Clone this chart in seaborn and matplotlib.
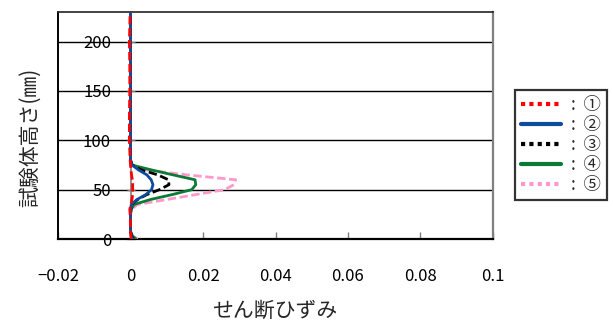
import matplotlib
matplotlib.use("Agg")
import matplotlib.pyplot as plt
import pandas as pd
import seaborn as sns
from matplotlib.lines import Line2D

# Specimen height (mm) at each measurement level
heights = [0, 3, 8, 15, 25, 30, 35, 40, 45, 50, 55, 60, 65, 70, 75, 80,
           90, 100, 125, 150, 175, 200, 230]

# Shear strain profiles for cases ① – ⑤
strain_1 = [0.0002, 0.0001, 0.0, 0.0, -0.0001, -0.0002, 0.0001, 0.0004, 0.0006,
            0.0006, 0.0006, 0.0005, 0.0003, 0.0001, 0.0, -0.0001, -0.0002,
            -0.0003, -0.0003, -0.0002, -0.0002, -0.0003, -0.0001]
strain_2 = [0.0006, 0.0002, 0.0, 0.0, 0.0, 0.0001, 0.0002, 0.0018, 0.0042,
            0.0058, 0.0062, 0.0057, 0.0045, 0.0022, 0.0004, 0.0, 0.0, 0.0,
            0.0, 0.0, 0.0, 0.0, 0.0]
strain_3 = [0.0008, 0.0003, 0.0, 0.0, 0.0, 0.0001, 0.0003, 0.0020, 0.0045,
            0.0080, 0.0106, 0.0105, 0.0075, 0.0030, 0.0005, 0.0, 0.0, 0.0,
            0.0, 0.0, 0.0, 0.0, 0.0]
strain_4 = [0.0015, 0.0005, 0.0, 0.0, 0.0, 0.0002, 0.0010, 0.0055, 0.0115,
            0.0169, 0.0180, 0.0178, 0.0117, 0.0058, 0.0003, 0.0, 0.0, 0.0,
            0.0, 0.0, 0.0, 0.0, 0.0]
strain_5 = [0.0020, 0.0006, 0.0, 0.0, 0.0, 0.0002, 0.0020, 0.0100, 0.0180,
            0.0260, 0.0285, 0.0290, 0.0156, 0.0040, 0.0003, 0.0, 0.0, 0.0,
            0.0, 0.0, 0.0, 0.0, 0.0]

series_names = ["①", "②", "③", "④", "⑤"]
series_values = [strain_1, strain_2, strain_3, strain_4, strain_5]
series_colors = ["#FF0000", "#0D4C9C", "#000000", "#0A7A35", "#FF99CC"]
series_dashed = [True, False, True, False, True]

x_ticks = [-0.02, 0, 0.02, 0.04, 0.06, 0.08, 0.1]
x_tick_labels = ["\u22120.02", "0", "0.02", "0.04", "0.06", "0.08", "0.1"]
y_ticks = [0, 50, 100, 150, 200]
y_tick_labels = ["0", "50", "100", "150", "200"]

x_label = "せん断ひずみ"
y_label = "試験体高さ(㎜)"

sns.set_theme(style="white")
plt.rcParams["font.family"] = ["Noto Sans CJK JP", "DejaVu Sans"]
plt.rcParams["axes.unicode_minus"] = True

df = pd.concat(
    [pd.DataFrame({"height": heights, "strain": vals, "case": name})
     for name, vals in zip(series_names, series_values)],
    ignore_index=True,
)

fig = plt.figure(figsize=(6.13, 3.22), dpi=100)
ax = fig.add_axes([58 / 613, 1 - 239 / 322, (493 - 58) / 613, (239 - 12) / 322])

palette = dict(zip(series_names, series_colors))
dashes = {n: ((3, 1.3) if d else "") for n, d in zip(series_names, series_dashed)}

# Draw from ⑤ back to ① so the near-zero red line stays on top
sns.lineplot(
    data=df, x="strain", y="height", hue="case", style="case",
    hue_order=series_names[::-1], style_order=series_names[::-1],
    palette=palette, dashes=dashes, sort=False, estimator=None,
    linewidth=2, legend=False, ax=ax, zorder=3,
)

ax.set_xlim(-0.02, 0.1)
ax.set_ylim(0, 230)
ax.set_xlabel("")
ax.set_ylabel("")

# Horizontal grid lines
ax.set_yticks(y_ticks)
ax.set_yticklabels(y_tick_labels)
ax.yaxis.grid(True, color="black", linewidth=1)
ax.xaxis.grid(False)
ax.set_axisbelow(True)

ax.set_xticks(x_ticks)
ax.set_xticklabels(x_tick_labels)

# Value axis crosses at strain = 0; plot-area frame around it
ax.spines["left"].set_position(("data", 0))
ax.spines["left"].set_color("#808080")
ax.spines["left"].set_linewidth(1.2)
ax.spines["left"].set_zorder(2)
ax.spines["bottom"].set_color("black")
ax.spines["bottom"].set_linewidth(1.6)
ax.spines["top"].set_color("#222222")
ax.spines["top"].set_linewidth(1.2)
ax.spines["right"].set_color("#808080")
ax.spines["right"].set_linewidth(1.6)
ax.axvline(-0.02, color="black", linewidth=1.4, clip_on=False, zorder=1)

ax.tick_params(axis="x", direction="in", length=5, width=1, color="#808080",
               pad=21, labelsize=12, bottom=True)
ax.tick_params(axis="y", direction="inout", length=6, width=1, color="#808080",
               pad=11, labelsize=12, left=True)
for lab in ax.get_xticklabels() + ax.get_yticklabels():
    lab.set_color("black")

fig.text(275 / 613, 1 - 311 / 322, x_label, ha="center", va="center", fontsize=15)
fig.text(30 / 613, 1 - 137 / 322, y_label, ha="center", va="center",
         rotation=90, fontsize=15)

# Legend with dotted/solid swatches
handles = []
for c, d in zip(series_colors, series_dashed):
    handles.append(Line2D([], [], color=c, linewidth=3,
                          linestyle=(0, (1, 1)) if d else "-"))
labels = [":  " + n for n in series_names]
leg = fig.legend(handles, labels, loc="upper left",
                 bbox_to_anchor=(515 / 613, 1 - 90 / 322),
                 frameon=True, fancybox=False, edgecolor="black",
                 handlelength=2.3, handletextpad=0.55, labelspacing=0.12,
                 borderpad=0.35, borderaxespad=0, fontsize=12.5)
leg.get_frame().set_linewidth(1.6)
leg.get_frame().set_facecolor("white")

fig.savefig("out.png", dpi=100)
